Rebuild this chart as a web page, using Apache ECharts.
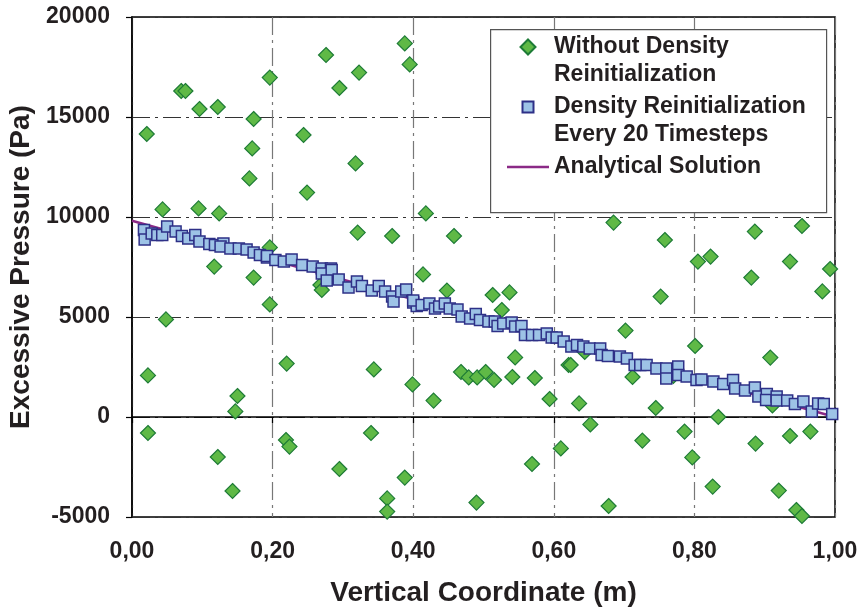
<!DOCTYPE html>
<html>
<head>
<meta charset="utf-8">
<script src="https://cdn.jsdelivr.net/npm/echarts@6/dist/echarts.min.js"></script>
<style>
html,body{margin:0;padding:0;background:#fff;}
#chart{width:861px;height:609px;}
</style>
</head>
<body>
<div id="chart"></div>
<script>
// ---- data ----
const seriesNames = ['Without Density Reinitialization', 'Density Reinitialization Every 20 Timesteps', 'Analytical Solution'];
const legendLabels = ['Without Density\nReinitialization', 'Density Reinitialization\nEvery 20 Timesteps', 'Analytical Solution'];
const xTickLabels = ['0,00', '0,20', '0,40', '0,60', '0,80', '1,00'];
const yTickValues = [-5000, 0, 5000, 10000, 15000, 20000];

const withoutReinit = [
  [0.021,14150],[0.070,16300],[0.076,16300],[0.096,15400],[0.122,15500],
  [0.173,14900],[0.196,16970],[0.171,13430],[0.167,11930],
  [0.244,14100],[0.249,11220],[0.276,18100],[0.295,16450],[0.323,17220],[0.318,12680],
  [0.388,18680],[0.395,17630],
  [0.0435,10380],[0.0947,10430],[0.124,10180],
  [0.321,9220],[0.370,9050],[0.196,8480],[0.117,7520],
  [0.418,10180],[0.458,9050],[0.685,9720],[0.758,8850],
  [0.805,7770],[0.823,8020],
  [0.886,9270],[0.953,9550],[0.936,7770],[0.881,6970],[0.993,7400],[0.982,6280],
  [0.801,3550],[0.908,2970],[0.911,580],[0.834,0],
  [0.786,-730],[0.936,-950],[0.965,-730],[0.887,-1330],[0.797,-2020],[0.826,-3480],[0.920,-3680],[0.945,-4650],[0.953,-4950],
  [0.414,7130],[0.448,6320],[0.513,6100],[0.537,6230],[0.526,5350],[0.752,6020],[0.702,4320],
  [0.545,2980],[0.621,2600],[0.624,2600],
  [0.468,2250],[0.479,1980],[0.491,1980],[0.503,2250],[0.515,1850],[0.541,2000],[0.573,1950],[0.712,2000],
  [0.399,1630],[0.429,820],[0.594,900],[0.636,680],[0.745,450],[0.652,-370],[0.726,-1180],
  [0.610,-1570],[0.569,-2350],[0.388,-3030],[0.490,-4280],[0.678,-4450],
  [0.173,6970],[0.196,5630],[0.0483,4880],[0.268,6600],[0.270,6350],
  [0.220,2670],[0.344,2380],[0.0227,2080],[0.150,1050],[0.147,280],[0.0227,-800],
  [0.219,-1150],[0.224,-1480],[0.340,-800],[0.122,-2000],[0.295,-2600],[0.143,-3700],[0.363,-4070],[0.363,-4730],
  [0.644,3250],[0.770,2050]
];

const withReinit = [
  [0.017,9350],[0.018,8880],[0.028,9180],[0.036,9100],[0.043,9100],[0.050,9520],[0.062,9270],[0.071,9050],
  [0.080,8920],[0.090,9100],[0.096,8780],[0.110,8650],[0.118,8600],[0.130,8680],[0.126,8520],[0.140,8430],
  [0.152,8430],[0.163,8380],[0.173,8220],[0.182,8100],[0.192,7980],[0.192,8050],[0.204,7850],[0.216,7770],
  [0.227,7880],[0.242,7600],[0.257,7520],[0.270,7430],[0.283,7420],
  [0.270,7180],[0.284,7350],[0.277,6820],[0.294,6880],[0.308,6480],[0.320,6770],[0.327,6550],[0.341,6320],
  [0.351,6550],[0.360,6270],[0.370,6020],[0.372,5770],[0.383,6270],[0.390,6380],[0.400,5720],[0.405,5550],
  [0.400,5820],[0.412,5600],[0.423,5680],[0.431,5430],[0.437,5520],[0.445,5680],[0.452,5430],[0.463,5380],
  [0.469,5020],[0.481,4930],[0.489,5150],[0.495,4850],[0.507,4770],[0.516,4770],[0.520,4550],[0.528,4680],
  [0.540,4720],[0.545,4520],[0.554,4550],[0.559,4100],[0.569,4100],[0.579,4100],[0.590,4180],[0.597,3980],
  [0.604,3980],[0.614,3770],[0.625,3520],[0.633,3600],[0.642,3520],[0.651,3430],[0.666,3430],[0.668,3100],
  [0.677,3050],[0.694,3020],[0.704,2930],[0.715,2600],[0.723,2600],[0.732,2600],[0.746,2430],[0.760,2430],
  [0.760,1930],[0.777,2520],[0.777,2100],[0.789,2020],[0.803,1850],
  [0.810,1880],[0.827,1770],[0.841,1650],[0.855,1850],[0.858,1430],[0.872,1320],[0.886,1480],[0.891,1020],
  [0.903,1150],[0.902,850],[0.917,1020],[0.917,820],[0.932,820],[0.943,650],[0.955,770],[0.967,270],
  [0.976,680],[0.984,650],[0.996,150]
];

const analytical = [[0, 9810], [1, 0]];

// ---- chart ----
const FONT = '"Liberation Sans", Arial, Helvetica, sans-serif';
const TXT = '#231f20';
const chart = echarts.init(document.getElementById('chart'), null, {renderer: 'canvas'});

const gridDash = [18, 5, 3, 5];

chart.setOption({
  animation: false,
  backgroundColor: '#fff',
  textStyle: {fontFamily: FONT},
  grid: {left: 132, right: 26, top: 17, bottom: 92, show: true, borderColor: '#000', borderWidth: 1.5,
    backgroundColor: 'transparent', containLabel: false, outerBoundsMode: 'none'},
  xAxis: {
    type: 'value', min: 0, max: 1, interval: 0.2,
    name: 'Vertical Coordinate (m)', nameLocation: 'middle', nameGap: 62,
    nameTextStyle: {fontSize: 28, fontWeight: 'bold', color: TXT, fontFamily: FONT},
    axisLine: {show: true, lineStyle: {color: '#000', width: 1.5}},
    axisTick: {show: true, inside: false, length: 6, lineStyle: {color: '#000', width: 1.2}},
    splitLine: {show: true, lineStyle: {color: '#777', width: 1.2, type: gridDash}},
    axisLabel: {fontSize: 23, fontWeight: 'bold', color: TXT, margin: 23, fontFamily: FONT,
      formatter: v => xTickLabels[Math.round(v / 0.2)]}
  },
  yAxis: {
    type: 'value', min: -5000, max: 20000, interval: 5000,
    name: 'Excessive Pressure (Pa)', nameLocation: 'middle', nameGap: 95,
    nameTextStyle: {fontSize: 28, fontWeight: 'bold', color: TXT, fontFamily: FONT},
    axisLine: {show: true, lineStyle: {color: '#000', width: 1.5}},
    axisTick: {show: true, inside: false, length: 6, lineStyle: {color: '#000', width: 1.2}},
    splitLine: {show: true, lineStyle: {color: '#333', width: 1.2, type: gridDash}},
    axisLabel: {fontSize: 23, fontWeight: 'bold', color: TXT, margin: 22, fontFamily: FONT,
      formatter: v => yTickValues.indexOf(v) >= 0 ? String(v) : ''}
  },
  graphic: [{
    type: 'rect', left: 490, top: 29, z: 3,
    shape: {width: 336, height: 183},
    style: {fill: '#fff', stroke: '#555', lineWidth: 1.2}
  }],
  legend: {
    orient: 'vertical', left: 507, top: 5, padding: 0,
    itemWidth: 42, itemHeight: 15, itemGap: -24, z: 5,
    formatter: name => {
      const lbl = legendLabels[seriesNames.indexOf(name)];
      return lbl.indexOf('\n') >= 0 ? ' \n' + lbl : ' \n' + lbl + '\n ';
    },
    textStyle: {fontSize: 23, fontWeight: 'bold', color: TXT, lineHeight: 28, fontFamily: FONT},
    data: [
      {name: seriesNames[0], icon: 'path://M0,0 M15,15 M7.5,0 L15,7.5 L7.5,15 L0,7.5 Z'},
      {name: seriesNames[1], icon: 'path://M0,0 M15,15 M2,2 L13,2 L13,13 L2,13 Z'},
      {name: seriesNames[2], icon: 'path://M0,0 M42,15 M0,6.3 L42,6.3 L42,8.7 L0,8.7 Z'}
    ]
  },
  series: [
    {
      name: seriesNames[0], type: 'scatter', data: withoutReinit,
      symbol: 'diamond', symbolSize: 15, z: 2,
      itemStyle: {color: '#5fb946', borderColor: '#1d7b36', borderWidth: 1.2, opacity: 1}
    },
    {
      name: seriesNames[2], type: 'line', data: analytical,
      symbol: 'none', showSymbol: false, z: 2,
      lineStyle: {color: '#8b2a86', width: 2.5},
      itemStyle: {color: '#8b2a86'}
    },
    {
      name: seriesNames[1], type: 'scatter', data: withReinit,
      symbol: 'rect', symbolSize: 11, z: 2,
      itemStyle: {color: '#9dc3e6', borderColor: '#2e3087', borderWidth: 1.5, opacity: 1}
    }
  ]
});
</script>
</body>
</html>
